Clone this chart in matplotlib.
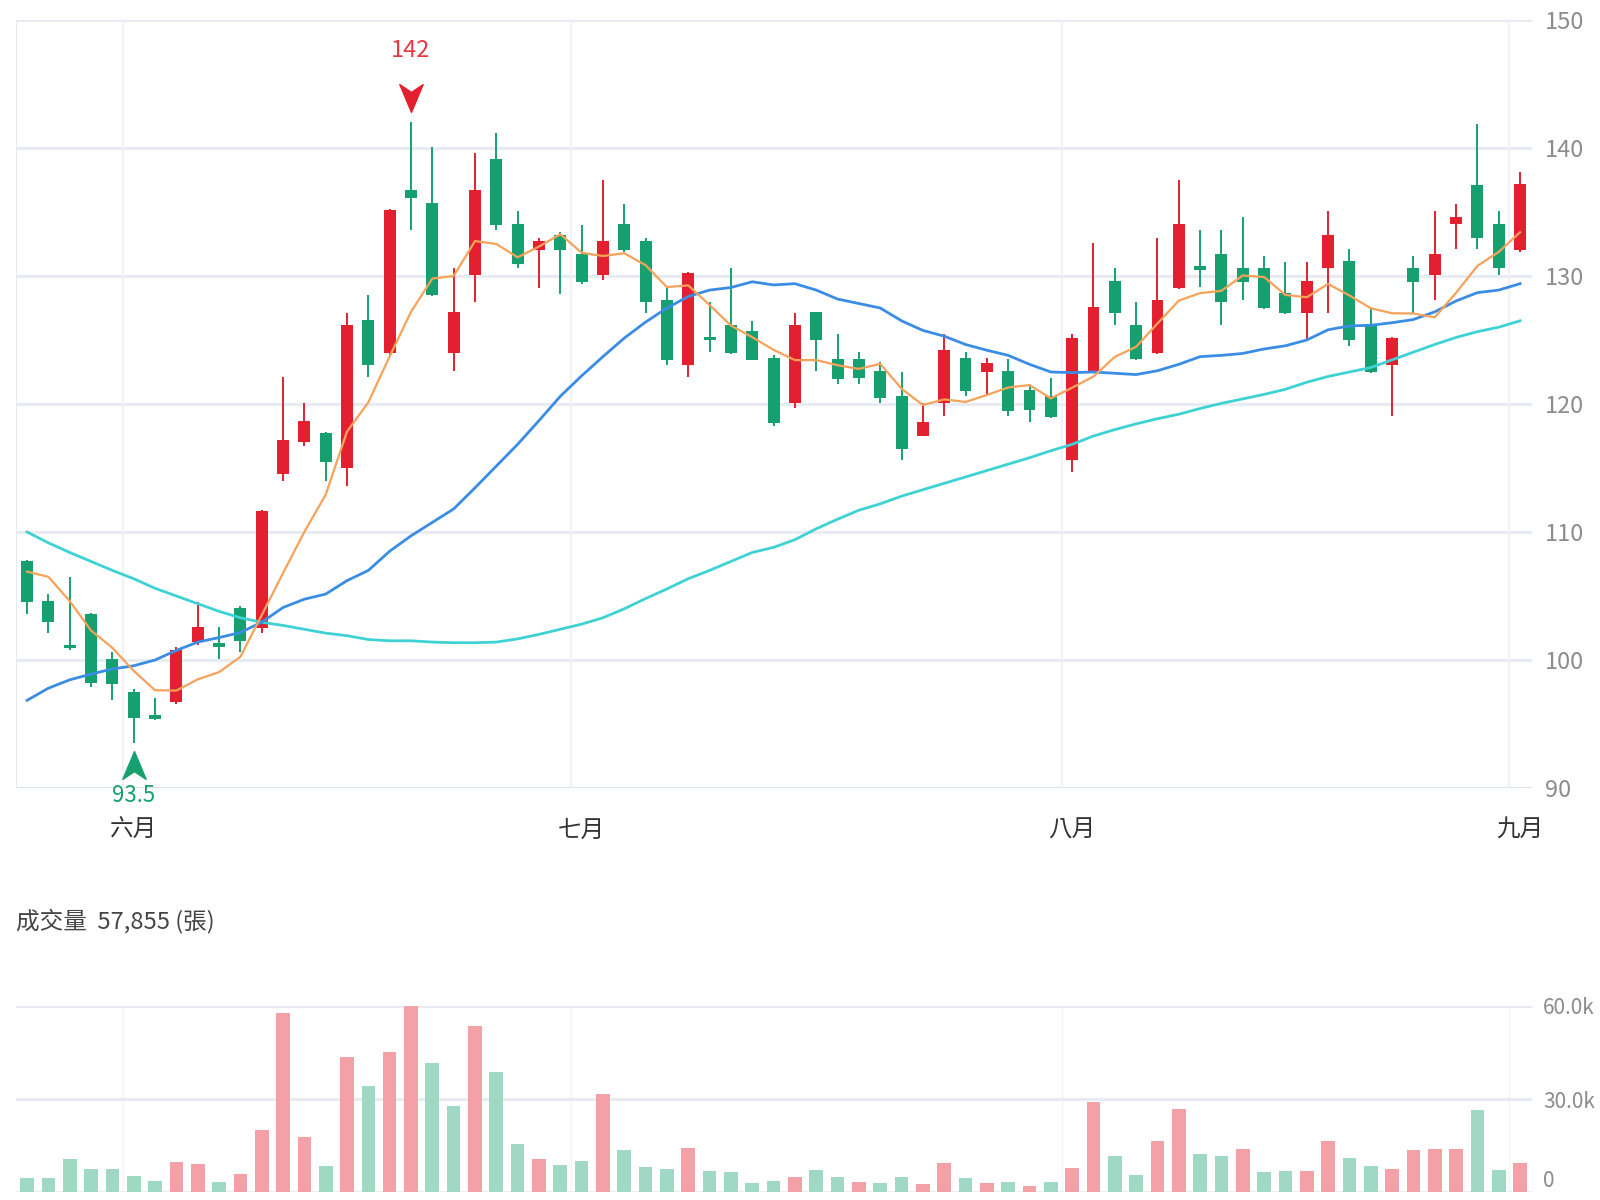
import matplotlib
matplotlib.use("Agg")
import matplotlib.pyplot as plt
import matplotlib.transforms as mtransforms
from matplotlib.path import Path
from matplotlib.ticker import FixedLocator, FuncFormatter

plt.rcParams['font.family'] = ['Noto Sans CJK TC', 'DejaVu Sans']

# daily candles, late May to early September
opens = [107.7, 104.6, 101.2, 103.6, 100.1, 97.5, 95.7, 96.7, 101.4, 101.3,
         104.1, 102.5, 114.5, 117.0, 117.7, 115.0, 126.6, 124.0, 136.7, 135.7,
         124.0, 130.1, 139.15, 134.1, 132.0, 133.2, 131.7, 130.1, 134.1, 132.7,
         128.1, 123.05, 125.2, 126.2, 125.7, 123.6, 120.1, 127.2, 123.55, 123.55,
         122.6, 120.6, 117.5, 120.1, 123.6, 122.5, 122.6, 121.1, 120.6, 115.6,
         122.5, 129.6, 126.2, 124.0, 129.05, 130.75, 131.7, 130.65, 130.65, 128.7,
         127.1, 130.6, 131.2, 126.2, 123.05, 130.65, 130.1, 134.1, 137.1, 134.1,
         132.0]
highs = [107.8, 105.15, 106.5, 103.7, 100.6, 97.7, 97.0, 101.0, 104.5, 102.6,
         104.2, 111.7, 122.1, 120.1, 117.8, 127.1, 128.5, 135.2, 142.0, 140.1,
         130.6, 139.6, 141.15, 135.05, 133.0, 133.45, 134.0, 137.5, 135.6, 133.0,
         129.05, 130.3, 128.0, 130.6, 126.5, 123.8, 127.1, 127.2, 125.5, 124.1,
         123.3, 122.5, 120.1, 125.5, 124.1, 123.6, 123.5, 121.6, 122.0, 125.5,
         132.6, 130.6, 128.0, 133.0, 137.5, 133.6, 133.6, 134.6, 131.6, 131.1,
         131.1, 135.05, 132.1, 127.5, 125.2, 131.6, 135.05, 135.6, 141.9, 135.05,
         138.1]
lows = [103.6, 102.1, 100.75, 97.9, 96.85, 93.5, 95.3, 96.6, 101.15, 100.1,
        100.6, 102.1, 114.0, 116.7, 114.0, 113.6, 122.1, 123.8, 133.6, 128.4,
        122.6, 128.0, 133.6, 130.6, 129.05, 128.6, 129.4, 129.7, 131.9, 127.1,
        123.05, 122.1, 124.1, 123.9, 123.4, 118.3, 119.7, 122.6, 121.6, 121.6,
        120.1, 115.6, 117.5, 119.1, 120.6, 120.6, 119.1, 118.6, 118.9, 114.7,
        122.4, 126.2, 123.4, 123.9, 129.0, 129.15, 126.2, 128.1, 127.4, 127.0,
        125.1, 127.1, 124.5, 122.4, 119.1, 127.1, 128.1, 132.1, 132.1, 130.07,
        131.9]
closes = [104.5, 102.95, 100.9, 98.2, 98.1, 95.5, 95.4, 100.75, 102.6, 101.0,
          101.5, 111.66, 117.2, 118.7, 115.5, 126.2, 123.05, 135.15, 136.1, 128.5,
          127.2, 136.7, 134.0, 130.9, 132.7, 132.0, 129.5, 132.7, 132.0, 128.0,
          123.45, 130.2, 125.0, 124.0, 123.45, 118.5, 126.2, 125.0, 121.95, 122.05,
          120.5, 116.5, 118.6, 124.2, 121.0, 123.2, 119.45, 119.55, 119.0, 125.15,
          127.6, 127.1, 123.5, 128.1, 134.1, 130.5, 128.0, 129.5, 127.5, 127.1,
          129.6, 133.2, 125.0, 122.5, 125.15, 129.5, 131.7, 134.6, 133.0, 130.6,
          137.2]

ma5 = [106.9, 106.5, 104.6, 102.3, 100.95, 99.15, 97.64, 97.61, 98.49, 99.05,
       100.25, 103.5, 106.79, 110.01, 112.91, 117.85, 120.13, 123.72, 127.2, 129.8,
       130.0, 132.73, 132.5, 131.46, 132.3, 133.26, 131.82, 131.56, 131.78, 130.84,
       129.13, 129.27, 127.73, 126.13, 125.22, 124.23, 123.43, 123.43, 123.03, 122.74,
       123.14, 121.2, 119.92, 120.36, 120.16, 120.7, 121.29, 121.48, 120.44, 121.27,
       122.15, 123.68, 124.47, 126.29, 128.08, 128.66, 128.84, 130.04, 129.92, 128.52,
       128.34, 129.38, 128.48, 127.48, 127.09, 127.07, 126.77, 128.69, 130.79, 131.88,
       133.42]
ma20 = [96.85, 97.8, 98.45, 98.9, 99.3, 99.55, 100.0, 100.75, 101.4, 101.75,
        102.15, 102.95, 104.1, 104.75, 105.15, 106.2, 107.0, 108.5, 109.7, 110.75,
        111.8, 113.45, 115.15, 116.85, 118.7, 120.6, 122.2, 123.7, 125.15, 126.4,
        127.5, 128.4, 128.9, 129.1, 129.55, 129.3, 129.4, 128.9, 128.2, 127.85,
        127.5, 126.5, 125.75, 125.3, 124.65, 124.2, 123.8, 123.1, 122.5, 122.45,
        122.5, 122.4, 122.3, 122.6, 123.1, 123.7, 123.8, 123.95, 124.3, 124.55,
        125.0, 125.8, 126.1, 126.15, 126.35, 126.6, 127.2, 128.05, 128.7, 128.9,
        129.4]
ma60 = [110.0, 109.15, 108.4, 107.7, 107.0, 106.35, 105.6, 105.0, 104.4, 103.8,
        103.3, 102.95, 102.7, 102.4, 102.1, 101.9, 101.6, 101.5, 101.5, 101.4,
        101.35, 101.35, 101.4, 101.65, 102.0, 102.4, 102.8, 103.3, 104.0, 104.8,
        105.55, 106.35, 107.0, 107.7, 108.4, 108.8, 109.4, 110.25, 111.0, 111.7,
        112.2, 112.8, 113.3, 113.8, 114.3, 114.8, 115.3, 115.8, 116.35, 116.85,
        117.5, 118.0, 118.45, 118.85, 119.2, 119.65, 120.05, 120.4, 120.75, 121.15,
        121.7, 122.15, 122.5, 122.85, 123.45, 124.05, 124.65, 125.2, 125.65, 126.0,
        126.5]

volume = [4400, 4400, 10700, 7400, 7400, 5200, 3600, 9800, 9100, 3300,
          5800, 19900, 57855, 17900, 8400, 43500, 34100, 45100, 60000, 41700,
          27800, 53500, 38600, 15400, 10700, 8700, 10000, 31600, 13400, 8200,
          7400, 14100, 6900, 6600, 3000, 3700, 4700, 7100, 4700, 3300,
          3000, 4700, 2600, 9300, 4400, 2800, 3100, 1900, 3300, 7700,
          28900, 11700, 5500, 16500, 26800, 12300, 11700, 13800, 6400, 6800,
          6900, 16600, 11100, 8400, 7300, 13600, 13800, 13800, 26500, 7100,
          9500]

month_labels = ['六月', '七月', '八月', '九月']
month_start = [5, 26, 49, 70]
price_ticks = [90, 100, 110, 120, 130, 140, 150]
vol_ticks = [0, 30000, 60000]
vol_title = '成交量  57,855 (張)'

RED = '#e3202f'
GREEN = '#17a06f'
VOL_RED = '#f3a0a6'
VOL_GREEN = '#9fd8c3'
GRID = '#e7eaf1'
LABEL = '#8c8c8c'

W, H = 1600, 1200
fig = plt.figure(figsize=(16, 12), dpi=100)
ax = fig.add_axes([16 / W, 1 - 788 / H, 1516 / W, 768 / H])
axv = fig.add_axes([16 / W, 1 - 1192 / H, 1516 / W, 186 / H], sharex=ax)

x = list(range(len(closes)))

# grid and frame
for a in (ax, axv):
    for s in a.spines.values():
        s.set_visible(False)
    a.tick_params(length=0)
    a.yaxis.tick_right()
    a.set_axisbelow(True)
for p in price_ticks:
    ax.axhline(p, color=GRID, lw=2, zorder=0)
ax.axhline(price_ticks[0], color='#dde1ea', lw=2.2, zorder=0)
ax.axvline(-0.52, color=GRID, lw=1.5, zorder=0)
for m in month_start:
    ax.axvline(m - 0.5, color='#eef0f5', lw=1.2, zorder=0)
    axv.axvline(m - 0.5, color='#f3f4f8', lw=1.0, zorder=0)

# candles
for i in x:
    up = closes[i] >= opens[i]
    col = RED if up else GREEN
    ax.vlines(i, lows[i], highs[i], color=col, lw=1.4, zorder=2)
    body = max(abs(closes[i] - opens[i]), 0.18)
    ax.bar(i, body, bottom=min(opens[i], closes[i]) - (body - abs(closes[i] - opens[i])) / 2,
           width=0.56, color=col, zorder=3, linewidth=0)

ax.plot(x, ma60, color='#3fd2d4', lw=2.0, zorder=4)
ax.plot(x, ma20, color='#3a8de3', lw=2.0, zorder=4)
ax.plot(x, ma5, color='#f5a25a', lw=1.6, zorder=5)

# highest / lowest markers
arrow = Path([(0, -0.5), (-0.42, 0.5), (0, 0.22), (0.42, 0.5), (0, -0.5)],
             [Path.MOVETO, Path.LINETO, Path.LINETO, Path.LINETO, Path.CLOSEPOLY])
arrow_up = Path([(0, 0.5), (-0.42, -0.5), (0, -0.22), (0.42, -0.5), (0, 0.5)],
                [Path.MOVETO, Path.LINETO, Path.LINETO, Path.LINETO, Path.CLOSEPOLY])
hi = max(x, key=lambda k: highs[k])
lo = min(x, key=lambda k: lows[k])
t_hi = mtransforms.offset_copy(ax.transData, fig=fig, x=0, y=24, units='dots')
t_lo = mtransforms.offset_copy(ax.transData, fig=fig, x=0, y=-22, units='dots')
ax.plot([hi], [highs[hi]], marker=arrow, markersize=20, color=RED, transform=t_hi,
        linestyle='none', zorder=6, clip_on=False)
ax.plot([lo], [lows[lo]], marker=arrow_up, markersize=20, color=GREEN, transform=t_lo,
        linestyle='none', zorder=6, clip_on=False)
ax.annotate(f'{highs[hi]:g}', (hi, highs[hi]), xytext=(0, 52), textcoords='offset points',
            ha='center', va='center', color='#e53a46', fontsize=17)
ax.annotate(f'{lows[lo]:g}', (lo, lows[lo]), xytext=(0, -38), textcoords='offset points',
            ha='center', va='center', color=GREEN, fontsize=16, zorder=7)

ax.set_xlim(-0.52, 70.56)
ax.set_ylim(90, 150)
ax.yaxis.set_major_locator(FixedLocator(price_ticks))
ax.tick_params(axis='y', labelsize=17, labelcolor=LABEL, pad=9)
ax.set_xticks(month_start)
ax.set_xticklabels(month_labels)
ax.tick_params(axis='x', labelsize=17, labelcolor='#333333', pad=22)

# volume
vcols = [VOL_RED if (closes[i] > closes[i - 1] if i > 0 else False) else VOL_GREEN for i in x]
vcols[39] = VOL_RED
axv.bar(x, volume, width=0.64, color=vcols, linewidth=0, zorder=3)
for v in vol_ticks:
    axv.axhline(v, color=GRID, lw=2, zorder=0)
axv.set_ylim(0, 60000)
axv.yaxis.set_major_locator(FixedLocator(vol_ticks))
axv.yaxis.set_major_formatter(FuncFormatter(lambda v, p: '0' if v == 0 else f'{v / 1000:.1f}k'))
axv.tick_params(axis='y', labelsize=15, labelcolor=LABEL, pad=8)
axv.tick_params(axis='x', labelbottom=False)
axv.get_yticklabels()[0].set_verticalalignment('bottom')
fig.text(16 / W, 1 - 921 / H, vol_title, ha='left', va='center', fontsize=17, color='#444444')

fig.savefig('out.png', dpi=100, facecolor='white')
